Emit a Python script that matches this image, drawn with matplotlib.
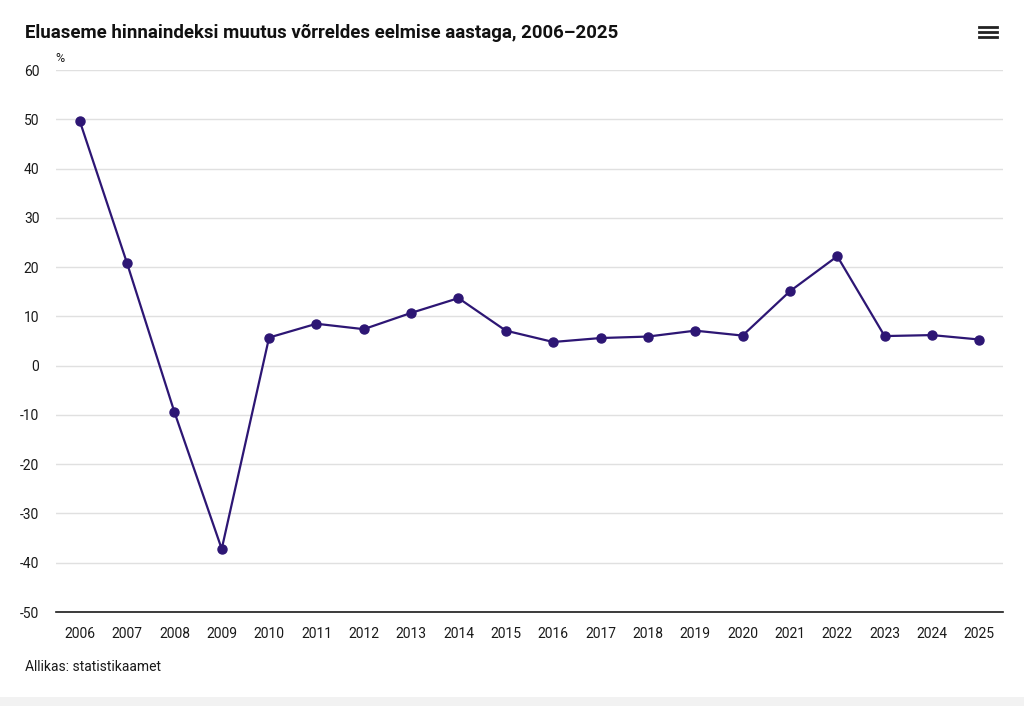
import matplotlib
matplotlib.use("Agg")
import matplotlib.pyplot as plt
from matplotlib.lines import Line2D
from matplotlib.patches import Rectangle

years = [str(y) for y in range(2006, 2026)]
values = [49.7, 20.8, -9.4, -37.2, 5.7, 8.5, 7.4, 10.7, 13.7, 7.1,
          4.8, 5.6, 5.9, 7.1, 6.1, 15.1, 22.2, 6.0, 6.2, 5.3]
yticks = list(range(-50, 61, 10))

plt.rcParams['font.family'] = ['Roboto', 'DejaVu Sans']

W, H = 1024, 706
fig = plt.figure(figsize=(W / 100, H / 100), dpi=100)
fig.patch.set_facecolor('white')

# bottom grey strip
fig.patches.append(Rectangle((0, 0), 1, 9 / H, transform=fig.transFigure,
                             facecolor='#f2f2f2', edgecolor='none', zorder=-1))

left, right, top, bottom = 56, 1003, 70, 612
ax = fig.add_axes([left / W, 1 - bottom / H, (right - left) / W, (bottom - top) / H])

x = list(range(len(years)))
color = '#2d1674'
ax.plot(x, values, color=color, linewidth=1.6, marker='o', markersize=6.5,
        markerfacecolor=color, markeredgecolor=color, zorder=3, clip_on=False)

ax.set_xlim(-0.5, len(years) - 0.5)
ax.set_ylim(-50, 60)
ax.set_yticks(yticks)
ax.set_yticklabels([str(t) for t in yticks])
ax.set_xticks(x)
ax.set_xticklabels(years)

ax.grid(axis='y', color='#e0e0e0', linewidth=1)
ax.set_axisbelow(True)
for s in ['top', 'right', 'left']:
    ax.spines[s].set_visible(False)
ax.spines['bottom'].set_color('#1a1a1a')
ax.spines['bottom'].set_linewidth(1.2)
ax.tick_params(axis='both', length=0, labelsize=10, colors='#1a1a1a')
ax.tick_params(axis='x', pad=10.5)
ax.tick_params(axis='y', pad=12)
for lbl in ax.get_yticklabels():
    lbl.set_horizontalalignment('right')

fig.text(25 / W, 1 - 33 / H, 'Eluaseme hinnaindeksi muutus võrreldes eelmise aastaga, 2006–2025',
         fontsize=13.4, fontweight='bold', color='#111111', va='center', ha='left')
fig.text(55 / W, 1 - 59 / H, '%', fontsize=9, color='#1a1a1a', va='center', ha='left')
fig.text(25 / W, 1 - 667 / H, 'Allikas: statistikaamet', fontsize=10, color='#1a1a1a',
         va='center', ha='left')

# hamburger menu icon
for yy in (27, 32, 37):
    fig.add_artist(Line2D([979 / W, 997 / W], [1 - yy / H, 1 - yy / H],
                          transform=fig.transFigure, color='#222222', linewidth=2.0))

fig.savefig('out.png', dpi=100, facecolor='white')
